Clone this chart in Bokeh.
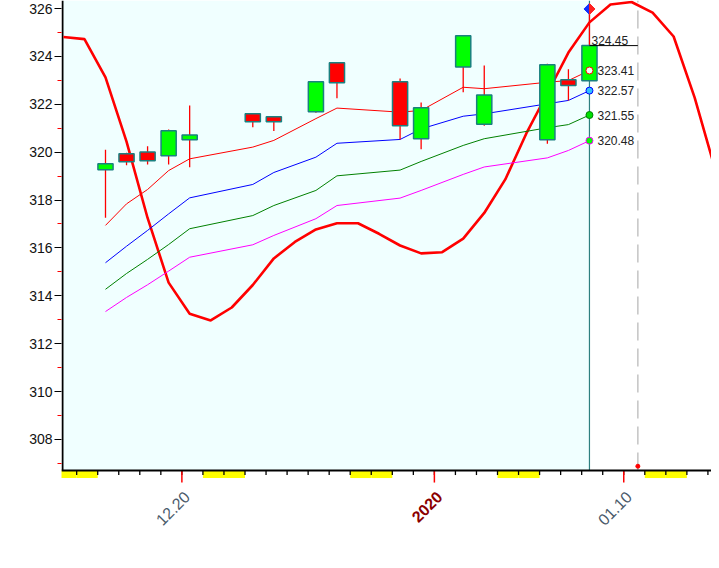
import math
from bokeh.plotting import figure
from bokeh.models import FixedTicker, Span, BoxAnnotation, Range1d
from bokeh.embed import file_html
from bokeh.resources import INLINE
from bokeh.core.properties import value

# ---------------- data ----------------
bar_dates = ["12.16", "12.17", "12.18", "12.19", "12.20", "12.23", "12.24", "12.26",
             "12.27", "12.30", "12.31", "01.02", "01.03", "01.06", "01.07", "01.08"]
bar_days = [0, 1, 2, 3, 4, 7, 8, 10, 11, 14, 15, 17, 18, 21, 22, 23]
opens = [319.26, 319.93, 320.01, 319.85, 320.52, 321.60, 321.48, 321.69,
         323.73, 322.94, 320.56, 323.56, 321.17, 320.52, 323.02, 322.98]
highs = [320.10, 319.97, 320.25, 320.95, 321.95, 321.62, 321.50, 322.94,
         323.74, 323.08, 322.07, 324.86, 323.62, 323.69, 323.46, 325.98]
lows = [317.26, 319.45, 319.48, 319.48, 319.37, 321.04, 320.88, 321.64,
        322.25, 320.53, 320.12, 322.50, 321.10, 320.35, 322.16, 322.98]
closes = [319.51, 319.60, 319.64, 320.89, 320.72, 321.27, 321.27, 322.94,
          322.90, 321.10, 321.85, 324.86, 322.39, 323.65, 322.78, 324.45]

ma_red = [316.94, 317.84, 318.44, 319.23, 319.72, 320.21, 320.49, 321.40,
          321.84, 321.67, 321.74, 322.71, 322.65, 322.92, 322.99, 323.41]
ma_blue = [315.38, 316.07, 316.73, 317.42, 318.09, 318.65, 319.15, 319.79,
           320.37, 320.53, 320.97, 321.50, 321.60, 322.02, 322.16, 322.57]
ma_green = [314.27, 314.93, 315.52, 316.14, 316.80, 317.35, 317.77, 318.40,
            319.01, 319.25, 319.61, 320.28, 320.56, 321.02, 321.15, 321.55]
ma_magenta = [313.34, 313.93, 314.46, 315.03, 315.61, 316.13, 316.52, 317.22,
              317.77, 318.08, 318.40, 319.07, 319.38, 319.76, 320.07, 320.48]

osc_days = list(range(-2, 31))
osc_values = [324.81, 324.72, 323.12, 320.44, 317.25, 314.55, 313.25, 312.97,
              313.51, 314.45, 315.56, 316.25, 316.77, 317.03, 317.03, 316.59,
              316.10, 315.77, 315.82, 316.39, 317.46, 318.86, 320.78, 322.46,
              324.16, 325.42, 326.17, 326.27, 325.83, 324.83, 322.28, 319.20, 315.50]

weekend_days = [-2, -1, 5, 6, 12, 13, 19, 20, 26, 27]
label_days = [4, 16, 25]
label_texts = ["12.20", "2020", "01.10"]
y_ticks = [308, 310, 312, 314, 316, 318, 320, 322, 324, 326]
y_minor = [307, 309, 311, 313, 315, 317, 319, 321, 323, 325]
cursor_day = 25.3

# ---------------- layout constants ----------------
px_per_unit = 23.94        # vertical pixels per price unit
px_per_day = 21.04         # horizontal pixels per day
tick_shift = 0.37          # day boundary lies left of bar center
y_hi = 326.334
y_lo = y_hi - 560 / px_per_unit
axis_floor = 306.70        # value at which the x axis line is drawn
label_level = 305.72       # where the rotated date labels sit (below the axis)
x_lo, x_hi = -2.091, 28.80
axis_x = -2.044            # left axis line position

p = figure(width=711, height=560, output_backend="svg", toolbar_location=None,
           x_range=Range1d(x_lo, x_hi), y_range=Range1d(y_lo, y_hi),
           min_border_left=61, min_border_right=0, min_border_top=0,
           min_border_bottom=0)
p.background_fill_color = "white"
p.border_fill_color = "white"
p.outline_line_color = None
p.grid.visible = False
p.xaxis.visible = False

last_day = bar_days[-1]
top_edge = y_hi

# background box up to the last bar
p.add_layout(BoxAnnotation(left=axis_x, right=last_day, bottom=axis_floor,
                           fill_color="#f0ffff", fill_alpha=1, line_color=None,
                           level="underlay"))

# vertical markers
p.segment(x0=[last_day], y0=[axis_floor], x1=[last_day], y1=[top_edge],
          line_color="#2e8080", line_width=1.2)
p.segment(x0=[cursor_day], y0=[axis_floor], x1=[cursor_day], y1=[top_edge],
          line_color="#c4c4c4", line_width=1.5, line_dash="18 8")

# weekend bars below axis
yb = axis_floor - 7.5 / px_per_unit
p.quad(left=[d - tick_shift for d in weekend_days],
       right=[d + 1 - tick_shift for d in weekend_days],
       bottom=yb, top=axis_floor, fill_color="#ffff00", line_color=None)

# x axis: line, minor (daily) and major ticks
minor_pos = [d - tick_shift for d in range(-1, 30)]
p.segment(x0=minor_pos, y0=[axis_floor] * len(minor_pos), x1=minor_pos,
          y1=[axis_floor - 4.5 / px_per_unit] * len(minor_pos),
          line_color="black", line_width=1.3)
major_pos = [d - tick_shift for d in label_days]
p.segment(x0=major_pos, y0=[axis_floor] * len(major_pos), x1=major_pos,
          y1=[axis_floor - 12 / px_per_unit] * len(major_pos),
          line_color="#ff0000", line_width=1.5)
p.add_layout(Span(location=axis_floor, dimension="width", line_color="black",
                  line_width=2))
# left axis line (ends at x axis)
p.segment(x0=[axis_x], y0=[axis_floor], x1=[axis_x], y1=[top_edge],
          line_color="black", line_width=2)

# oscillator curve
p.line(osc_days, osc_values, line_color="#ff0000", line_width=2.6)

# moving averages
p.line(bar_days, ma_red, line_color="#ff0000", line_width=1)
p.line(bar_days, ma_blue, line_color="#0000ff", line_width=1)
p.line(bar_days, ma_green, line_color="#008000", line_width=1)
p.line(bar_days, ma_magenta, line_color="#ff00ff", line_width=1)

# candles
p.segment(x0=bar_days, y0=lows, x1=bar_days, y1=highs, line_color="#ff0000",
          line_width=1.3)
tops = [max(o, c) for o, c in zip(opens, closes)]
bots = [min(o, c) for o, c in zip(opens, closes)]
fills = ["#00ff00" if c >= o else "#ff0000" for o, c in zip(opens, closes)]
p.vbar(x=bar_days, width=0.72, top=tops, bottom=bots, fill_color=fills,
       line_color="#1a8080", line_width=1.5)

# close line to cursor
p.segment(x0=[last_day], y0=[closes[-1]], x1=[cursor_day], y1=[closes[-1]],
          line_color="black", line_width=1)

# end markers
p.scatter([last_day], [ma_red[-1]], size=7, marker="circle", line_color="#ff0000",
          fill_color="#f0ffff", line_width=1)
p.scatter([last_day], [ma_blue[-1]], size=7, marker="circle", line_color="#0000ff",
          fill_color="#30c0ff", line_width=1)
p.scatter([last_day], [ma_green[-1]], size=7, marker="circle", line_color="#008000",
          fill_color="#00e000", line_width=1)
p.scatter([last_day], [ma_magenta[-1]], size=7, marker="circle", line_color="#ff00ff",
          fill_color="#00ff00", line_width=1)

# split diamond on the last high (left blue, right red)
hw, hh = 5.5 / px_per_day, 5.5 / px_per_unit
hx, hy = last_day, highs[-1]
p.patch([hx, hx - hw, hx], [hy + hh, hy, hy - hh], fill_color="#1030ff",
        line_color="#1030ff", line_width=1)
p.patch([hx, hx + hw, hx], [hy + hh, hy, hy - hh], fill_color="#ff2020",
        line_color="#ff2020", line_width=1)

p.scatter([cursor_day], [axis_floor + 4.3 / px_per_unit], size=4, marker="circle",
          line_color="#ff0000", fill_color="#ff0000")

# value labels
p.text([last_day], [closes[-1]], text=[f"{closes[-1]:.2f}"], x_offset=2, y_offset=-1,
       text_baseline="bottom", text_align="left", text_font=value("Liberation Sans"),
       text_font_size="12px", text_color="#222222")
ma_last = [ma_red[-1], ma_blue[-1], ma_green[-1], ma_magenta[-1]]
p.text([last_day] * 4, ma_last, text=[f"{v:.2f}" for v in ma_last], x_offset=8,
       text_baseline="middle", text_align="left", text_font=value("Liberation Sans"),
       text_font_size="12px", text_color="#222222")

# rotated date labels
p.text(x=major_pos, y=[label_level] * len(major_pos), text=label_texts,
       angle=math.pi / 4, text_align="right", text_baseline="middle", x_offset=5,
       text_font=value("Liberation Sans"), text_font_size="16px",
       text_font_style=["bold" if len(t) == 4 else "normal" for t in label_texts],
       text_color=["#8b0000" if len(t) == 4 else "#4a5a6a" for t in label_texts])

# y axis
ya = p.yaxis[0]
ya.ticker = FixedTicker(ticks=y_ticks, minor_ticks=y_minor)
ya.axis_line_color = None
ya.major_tick_line_color = "black"
ya.major_tick_in = 0
ya.major_tick_out = 7
ya.minor_tick_line_color = "#ff0000"
ya.minor_tick_in = 0
ya.minor_tick_out = 4
ya.major_label_standoff = 2
ya.major_label_text_font = "Liberation Sans"
ya.major_label_text_font_size = "14px"
ya.major_label_text_color = "#111111"

open("out.html", "w").write(file_html(p, INLINE))
